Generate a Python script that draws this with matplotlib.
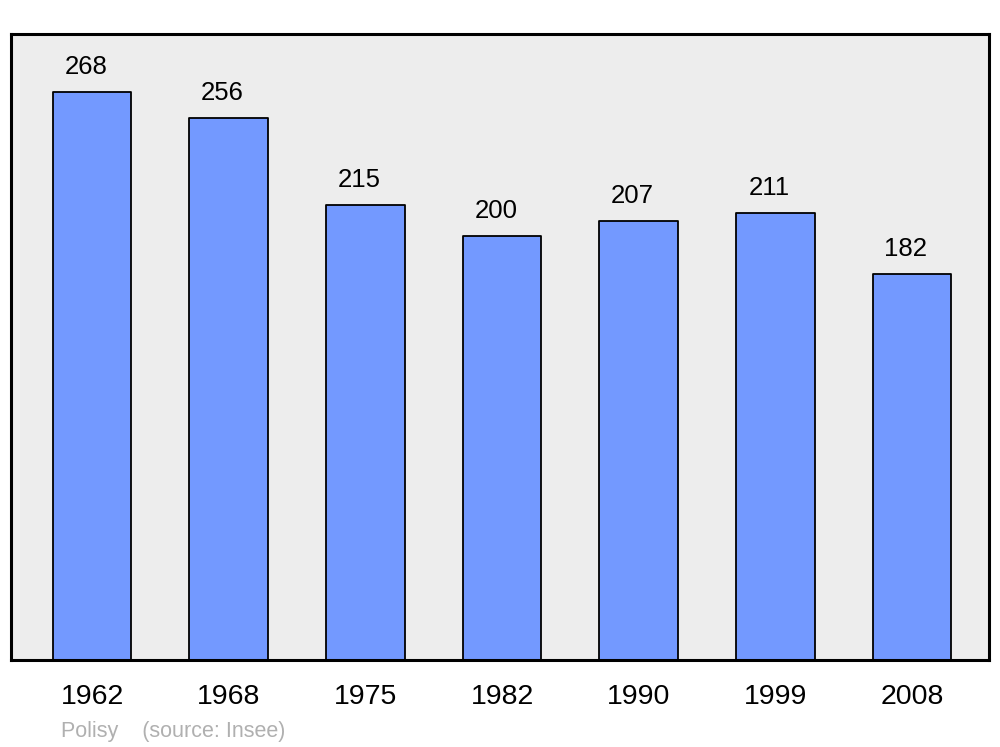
import matplotlib.pyplot as plt

# population of Polisy by census year
years = ["1962", "1968", "1975", "1982", "1990", "1999", "2008"]
population = [268, 256, 215, 200, 207, 211, 182]

plt.rcParams['font.family'] = ['Liberation Sans', 'DejaVu Sans']

fig = plt.figure(figsize=(10, 7.47), dpi=100)
ax = fig.add_axes([0.011, 0.1165, 0.978, 0.838])
ax.set_facecolor('#ededed')

x = range(len(years))
bars = ax.bar(x, population, width=0.575, color='#7399ff',
              edgecolor='black', linewidth=1.3)
for b in bars:
    b.set_joinstyle('round')

for xi, v in zip(x, population):
    ax.annotate(str(v), (xi, v), xytext=(-4.5, 18), textcoords='offset points',
                ha='center', va='center', fontsize=18.5)

ax.set_xlim(-0.593, len(years) - 1 + 0.563)
ax.set_ylim(0, 295.5)
ax.set_xticks(list(x))
ax.set_xticklabels(years, fontsize=20.5)
ax.tick_params(axis='x', length=0, pad=17)
ax.set_yticks([])
for s in ax.spines.values():
    s.set_linewidth(2.2)
    s.set_joinstyle('round')

fig.text(0.061, 0.013, "Polisy    (source: Insee)", fontsize=15.5,
         color='#b0b0b0', ha='left', va='baseline')

fig.savefig('out.png')
